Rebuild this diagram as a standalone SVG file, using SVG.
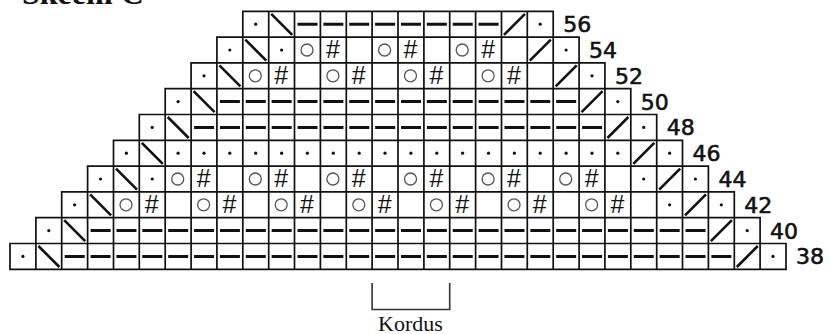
<svg xmlns="http://www.w3.org/2000/svg" xmlns:xlink="http://www.w3.org/1999/xlink" width="829" height="334" viewBox="0 0 829 334">
<style>
.grid{fill:none;stroke:#111;stroke-width:1.7;stroke-linecap:square}
.dot{fill:#111}
.diag{stroke:#111;stroke-width:2.6;stroke-linecap:butt}
.dash{stroke:#111;stroke-width:3;fill:none}
.yo{fill:none;stroke:#555;stroke-width:1.3}
.hash{font-family:"Liberation Sans",Arial,sans-serif;font-size:25px;fill:#111;text-anchor:middle}
.num{font-family:"DejaVu Sans",Verdana,sans-serif;font-size:22px;fill:#111;stroke:#111;stroke-width:0.6}
.title{font-family:"Liberation Serif","Times New Roman",serif;font-weight:bold;font-size:32px;fill:#111}
.kord{font-family:"Liberation Serif","Times New Roman",serif;font-size:22px;fill:#111;text-anchor:middle}
.brk{fill:none;stroke:#333;stroke-width:1.6}
</style>
<defs>
<circle id="s-dot" class="dot" cx="12.9" cy="12.9" r="1.6"/>
<line id="s-bs" class="diag" x1="2.5" y1="2.5" x2="23.5" y2="23.5"/>
<line id="s-sl" class="diag" x1="2.5" y1="23.5" x2="23.5" y2="2.5"/>
<circle id="s-o" class="yo" cx="12.5" cy="12.9" r="6"/>
</defs>
<rect width="829" height="334" fill="#fff"/>
<text class="title" x="22" y="4">Skeem C</text>
<g id="grid">
<path class="grid" d="M10 269.3H786M10 243.5H786M35.9 217.7H760.1M61.7 191.9H734.3M87.6 166.1H708.4M113.5 140.3H682.5M139.3 114.5H656.7M165.2 88.7H630.8M191.1 62.9H604.9M216.9 37.1H579.1M242.8 11.3H553.2
M10 269.3V243.5M35.9 269.3V217.7M61.7 269.3V191.9M87.6 269.3V166.1M113.5 269.3V140.3M139.3 269.3V114.5M165.2 269.3V88.7M191.1 269.3V62.9M216.9 269.3V37.1
M242.8 269.3V11.3M268.7 269.3V11.3M294.5 269.3V11.3M320.4 269.3V11.3M346.3 269.3V11.3M372.1 269.3V11.3M398 269.3V11.3M423.9 269.3V11.3M449.7 269.3V11.3M475.6 269.3V11.3M501.5 269.3V11.3M527.3 269.3V11.3M553.2 269.3V11.3
M579.1 269.3V37.1M604.9 269.3V62.9M630.8 269.3V88.7M656.7 269.3V114.5M682.5 269.3V140.3M708.4 269.3V166.1M734.3 269.3V191.9M760.1 269.3V217.7M786 269.3V243.5"/>
</g>
<g id="row38">
<use href="#s-dot" x="10" y="243.5"/><use href="#s-bs" x="35.9" y="243.5"/>
<line class="dash" x1="64.7" y1="256.4" x2="731.4" y2="256.4" stroke-dasharray="20 5.867"/>
<use href="#s-sl" x="734.3" y="243.5"/><use href="#s-dot" x="760.1" y="243.5"/>
<text class="num" x="796" y="264.4">38</text>
</g>
<g id="row40">
<use href="#s-dot" x="35.9" y="217.7"/><use href="#s-bs" x="61.7" y="217.7"/>
<line class="dash" x1="90.6" y1="230.6" x2="705.5" y2="230.6" stroke-dasharray="20 5.867"/>
<use href="#s-sl" x="708.4" y="217.7"/><use href="#s-dot" x="734.3" y="217.7"/>
<text class="num" x="770.1" y="238.6">40</text>
</g>
<g id="row42">
<use href="#s-dot" x="61.7" y="191.9"/><use href="#s-bs" x="87.6" y="191.9"/>
<use href="#s-o" x="113.5" y="191.9"/><text class="hash" x="151.8" y="212.9">#</text>
<use href="#s-o" x="191.1" y="191.9"/><text class="hash" x="229.4" y="212.9">#</text>
<use href="#s-o" x="268.7" y="191.9"/><text class="hash" x="307" y="212.9">#</text>
<use href="#s-o" x="346.3" y="191.9"/><text class="hash" x="384.6" y="212.9">#</text>
<use href="#s-o" x="423.9" y="191.9"/><text class="hash" x="462.2" y="212.9">#</text>
<use href="#s-o" x="501.5" y="191.9"/><text class="hash" x="539.8" y="212.9">#</text>
<use href="#s-o" x="579.1" y="191.9"/><text class="hash" x="617.4" y="212.9">#</text>
<use href="#s-dot" x="656.7" y="191.9"/><use href="#s-sl" x="682.5" y="191.9"/><use href="#s-dot" x="708.4" y="191.9"/>
<text class="num" x="744.3" y="212.8">42</text>
</g>
<g id="row44">
<use href="#s-dot" x="87.6" y="166.1"/><use href="#s-bs" x="113.5" y="166.1"/><use href="#s-dot" x="139.3" y="166.1"/>
<use href="#s-o" x="165.2" y="166.1"/><text class="hash" x="203.6" y="187.1">#</text>
<use href="#s-o" x="242.8" y="166.1"/><text class="hash" x="281.2" y="187.1">#</text>
<use href="#s-o" x="320.4" y="166.1"/><text class="hash" x="358.8" y="187.1">#</text>
<use href="#s-o" x="398" y="166.1"/><text class="hash" x="436.4" y="187.1">#</text>
<use href="#s-o" x="475.6" y="166.1"/><text class="hash" x="514" y="187.1">#</text>
<use href="#s-o" x="553.2" y="166.1"/><text class="hash" x="591.6" y="187.1">#</text>
<use href="#s-dot" x="630.8" y="166.1"/><use href="#s-sl" x="656.7" y="166.1"/><use href="#s-dot" x="682.5" y="166.1"/>
<text class="num" x="718.4" y="187">44</text>
</g>
<g id="row46">
<use href="#s-dot" x="113.5" y="140.3"/><use href="#s-bs" x="139.3" y="140.3"/>
<use href="#s-dot" x="165.2" y="140.3"/><use href="#s-dot" x="191.1" y="140.3"/><use href="#s-dot" x="216.9" y="140.3"/><use href="#s-dot" x="242.8" y="140.3"/><use href="#s-dot" x="268.7" y="140.3"/><use href="#s-dot" x="294.5" y="140.3"/><use href="#s-dot" x="320.4" y="140.3"/><use href="#s-dot" x="346.3" y="140.3"/><use href="#s-dot" x="372.1" y="140.3"/><use href="#s-dot" x="398" y="140.3"/><use href="#s-dot" x="423.9" y="140.3"/><use href="#s-dot" x="449.7" y="140.3"/><use href="#s-dot" x="475.6" y="140.3"/><use href="#s-dot" x="501.5" y="140.3"/><use href="#s-dot" x="527.3" y="140.3"/><use href="#s-dot" x="553.2" y="140.3"/><use href="#s-dot" x="579.1" y="140.3"/><use href="#s-dot" x="604.9" y="140.3"/>
<use href="#s-sl" x="630.8" y="140.3"/><use href="#s-dot" x="656.7" y="140.3"/>
<text class="num" x="692.5" y="161.2">46</text>
</g>
<g id="row48">
<use href="#s-dot" x="139.3" y="114.5"/><use href="#s-bs" x="165.2" y="114.5"/>
<line class="dash" x1="194.1" y1="127.4" x2="602.1" y2="127.4" stroke-dasharray="20 5.867"/>
<use href="#s-sl" x="604.9" y="114.5"/><use href="#s-dot" x="630.8" y="114.5"/>
<text class="num" x="666.7" y="135.4">48</text>
</g>
<g id="row50">
<use href="#s-dot" x="165.2" y="88.7"/><use href="#s-bs" x="191.1" y="88.7"/>
<line class="dash" x1="219.9" y1="101.6" x2="576.2" y2="101.6" stroke-dasharray="20 5.867"/>
<use href="#s-sl" x="579.1" y="88.7"/><use href="#s-dot" x="604.9" y="88.7"/>
<text class="num" x="640.8" y="109.6">50</text>
</g>
<g id="row52">
<use href="#s-dot" x="191.1" y="62.9"/><use href="#s-bs" x="216.9" y="62.9"/>
<use href="#s-o" x="242.8" y="62.9"/><text class="hash" x="281.2" y="83.9">#</text>
<use href="#s-o" x="320.4" y="62.9"/><text class="hash" x="358.8" y="83.9">#</text>
<use href="#s-o" x="398" y="62.9"/><text class="hash" x="436.4" y="83.9">#</text>
<use href="#s-o" x="475.6" y="62.9"/><text class="hash" x="514" y="83.9">#</text>
<use href="#s-sl" x="553.2" y="62.9"/><use href="#s-dot" x="579.1" y="62.9"/>
<text class="num" x="614.9" y="83.8">52</text>
</g>
<g id="row54">
<use href="#s-dot" x="216.9" y="37.1"/><use href="#s-bs" x="242.8" y="37.1"/><use href="#s-dot" x="268.7" y="37.1"/>
<use href="#s-o" x="294.5" y="37.1"/><text class="hash" x="332.9" y="58.1">#</text>
<use href="#s-o" x="372.1" y="37.1"/><text class="hash" x="410.5" y="58.1">#</text>
<use href="#s-o" x="449.7" y="37.1"/><text class="hash" x="488.1" y="58.1">#</text>
<use href="#s-sl" x="527.3" y="37.1"/><use href="#s-dot" x="553.2" y="37.1"/>
<text class="num" x="589.1" y="58">54</text>
</g>
<g id="row56">
<use href="#s-dot" x="242.8" y="11.3"/><use href="#s-bs" x="268.7" y="11.3"/>
<line class="dash" x1="297.5" y1="24.2" x2="498.6" y2="24.2" stroke-dasharray="20 5.867"/>
<use href="#s-sl" x="501.5" y="11.3"/><use href="#s-dot" x="527.3" y="11.3"/>
<text class="num" x="563.2" y="32.2">56</text>
</g>
<g id="repeat">
<path class="brk" d="M372.1 283V309.5H449.7V283"/>
<text class="kord" x="410.5" y="331">Kordus</text>
</g>
</svg>
